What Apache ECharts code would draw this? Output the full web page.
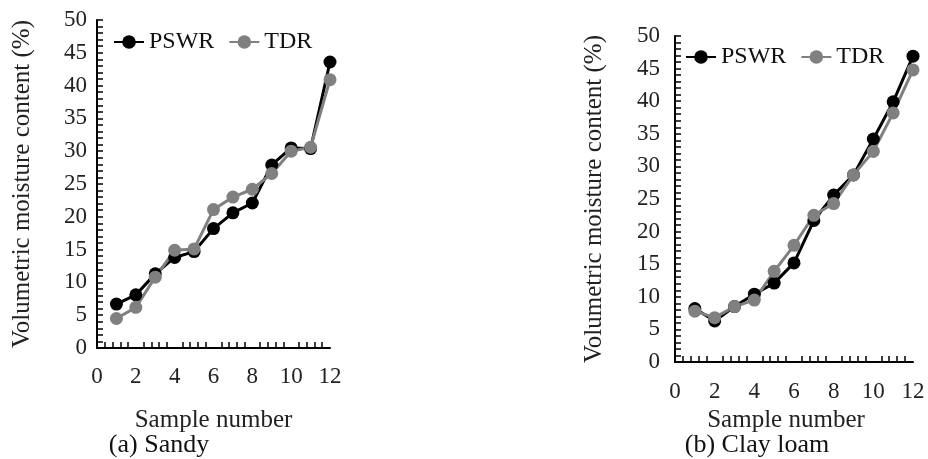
<!DOCTYPE html>
<html>
<head>
<meta charset="utf-8">
<script src="https://cdn.jsdelivr.net/npm/echarts@6/dist/echarts.min.js"></script>
<style>
  html, body { margin: 0; padding: 0; background: #fff; }
  #chart { width: 928px; height: 459px; }
</style>
</head>
<body>
<div id="chart"></div>
<script>
// sample numbers 1..12
var samples = [1, 2, 3, 4, 5, 6, 7, 8, 9, 10, 11, 12]
// (a) Sandy
var sandyPSWR = [6.7, 8.1, 11.3, 13.8, 14.7, 18.2, 20.6, 22.1, 27.9, 30.5, 30.4, 43.6]
var sandyTDR = [4.5, 6.2, 10.8, 14.9, 15.1, 21.1, 23.0, 24.2, 26.6, 30.0, 30.6, 40.9]
// (b) Clay loam
var clayPSWR = [8.2, 6.3, 8.5, 10.4, 12.1, 15.2, 21.7, 25.6, 28.7, 34.2, 39.9, 46.9]
var clayTDR = [7.8, 6.8, 8.5, 9.5, 13.9, 17.9, 22.5, 24.3, 28.7, 32.3, 38.2, 44.8]

var font = 'Liberation Serif'

function pairs (ys) {
  return samples.map(function (x, i) { return [x, ys[i]] })
}

function xAxisFor (gridIndex, nameGap, labelMargin, namePad) {
  return {
    gridIndex: gridIndex,
    type: 'value',
    min: 0,
    max: 12,
    interval: 2,
    name: 'Sample number',
    nameLocation: 'middle',
    nameGap: nameGap,
    nameTextStyle: { color: '#222', fontFamily: font, fontSize: 25, padding: namePad },
    splitLine: { show: false },
    axisLine: { lineStyle: { color: '#000', width: 2 } },
    axisTick: { show: false, inside: true },
    minorTick: { show: true, splitNumber: 5, length: 6, lineStyle: { color: '#000', width: 1.5 } },
    axisLabel: { color: '#222', fontFamily: font, fontSize: 23, margin: labelMargin }
  }
}

function yAxisFor (gridIndex, labelMargin, nameGap) {
  return {
    gridIndex: gridIndex,
    type: 'value',
    min: 0,
    max: 50,
    interval: 5,
    name: 'Volumetric moisture content (%)',
    nameLocation: 'middle',
    nameGap: nameGap,
    nameTextStyle: { color: '#222', fontFamily: font, fontSize: 25 },
    splitLine: { show: false },
    axisLine: { lineStyle: { color: '#000', width: 2 } },
    axisTick: { show: true, inside: true, length: 6, lineStyle: { color: '#000', width: 1.5 } },
    minorTick: { show: true, splitNumber: 5, length: 6, lineStyle: { color: '#000', width: 1.5 } },
    axisLabel: { color: '#222', fontFamily: font, fontSize: 23, margin: labelMargin }
  }
}

function lineSeries (name, data, color, axisIndex) {
  return {
    name: name,
    type: 'line',
    xAxisIndex: axisIndex,
    yAxisIndex: axisIndex,
    data: pairs(data),
    symbol: 'circle',
    symbolSize: 13,
    lineStyle: { color: color, width: 3 },
    itemStyle: { color: color },
    animation: false
  }
}

var myChart = echarts.init(document.getElementById('chart'))
var option = {
  backgroundColor: '#fff',
  animation: false,
  title: [
    { text: '(a) Sandy', left: 154, top: 427, textAlign: 'center',
      textStyle: { color: '#111', fontFamily: font, fontSize: 26, fontWeight: 'normal' } },
    { text: '(b) Clay loam', left: 752, top: 427, textAlign: 'center',
      textStyle: { color: '#111', fontFamily: font, fontSize: 26, fontWeight: 'normal' } }
  ],
  legend: [
    { data: ['PSWR', 'TDR'], left: 108, top: 25, itemWidth: 30, itemHeight: 17, itemGap: 14,
      textStyle: { color: '#111', fontFamily: font, fontSize: 24 } },
    { data: ['PSWR', 'TDR'], left: 680, top: 40, itemWidth: 30, itemHeight: 17, itemGap: 14,
      textStyle: { color: '#111', fontFamily: font, fontSize: 24 } }
  ],
  grid: [
    { left: 97, top: 20, width: 233, height: 328, containLabel: false },
    { left: 675, top: 36, width: 238, height: 326, containLabel: false }
  ],
  xAxis: [xAxisFor(0, 60, 17, 0), xAxisFor(1, 37, 18, [0, 16, 0, 0])],
  yAxis: [yAxisFor(0, 10, 62), yAxisFor(1, 15, 68)],
  series: [
    lineSeries('PSWR', sandyPSWR, '#000', 0),
    lineSeries('TDR', sandyTDR, '#808080', 0),
    lineSeries('PSWR', clayPSWR, '#000', 1),
    lineSeries('TDR', clayTDR, '#808080', 1)
  ]
}
myChart.setOption(option, true)
window.addEventListener('resize', function () {
  myChart.resize()
})
</script>
</body>
</html>
